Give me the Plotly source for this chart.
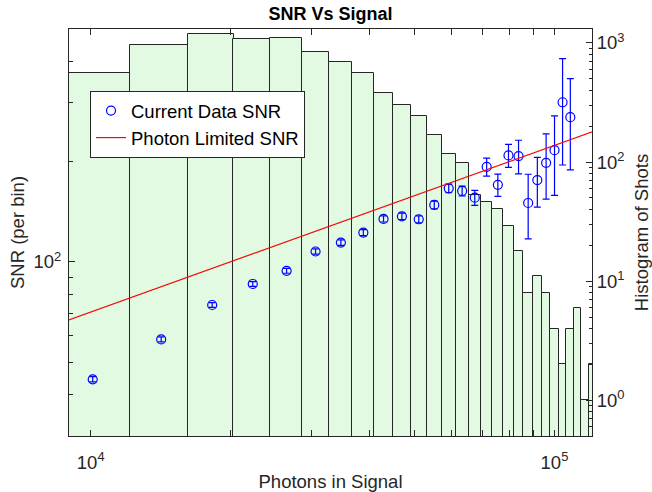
import math
import plotly.graph_objects as go

# ---------------- data ----------------
# bin centres of the photon histogram (photons in signal)
bin_centers = [10100, 14190, 18280, 22360, 26450, 30540, 34630, 38720, 42800,
               46890, 50980, 55070, 59160, 63240, 67330, 71420, 75510, 79600,
               83680, 87770, 91860, 95950, 100040, 104120, 108210, 112300,
               116390, 120480]
bin_width = 4087
# histogram of shots per bin
shot_counts = [557, 962, 1199, 1089, 1101, 841, 689, 564, 381, 304, 244, 168,
               116, 98, 53, 46, 40, 29, 18, 8, 11, 8, 4, 2, 4, 6, 1, 2]

# measured SNR per bin (first 25 bins) and its error
snr_signal = bin_centers[:25]
snr_values = [44.4, 58.5, 74.2, 85.8, 94.0, 107.4, 114.2, 122.4, 134.5, 137.0,
              134.2, 148.2, 166.2, 163.2, 155.8, 192.9, 170.3, 208.7, 207.7,
              150.2, 176.0, 198.3, 216.4, 301.3, 271.8]
snr_errors = [0.8, 1.0, 1.2, 1.4, 1.6, 1.9, 2.2, 2.5, 2.8, 3.0, 3.2, 4.0, 5.0,
              5.5, 8.0, 12.0, 13.0, 16.5, 24.0, 33.0, 30.0, 44.0, 58.0, 106.0,
              83.0]

# photon limited SNR line (end points)
photon_signal = [8900, 121000]
photon_snr = [66.7, 246.0]

x_tick_vals = [1e4, 1e5]
x_tick_text = ["10<sup>4</sup>", "10<sup>5</sup>"]
snr_tick_vals = [100]
snr_tick_text = ["10<sup>2</sup>"]
hist_tick_vals = [1, 10, 100, 1000]
hist_tick_text = ["10<sup>0</sup>", "10<sup>1</sup>", "10<sup>2</sup>", "10<sup>3</sup>"]

# ---------------- style ----------------
FONT = "Liberation Sans, Arial, Helvetica, sans-serif"
AX = "rgb(38,38,38)"
FS = 18.5

x_minor = [m * 1e4 for m in range(2, 10)]
snr_minor = [40, 50, 60, 70, 80, 90, 200, 300, 400]
hist_minor = [0.6, 0.7, 0.8, 0.9] + [m * 10 ** d for d in range(0, 3) for m in range(2, 10)]

fig = go.Figure()

fig.add_trace(go.Bar(
    x=bin_centers, y=shot_counts, width=[bin_width] * len(bin_centers),
    marker=dict(color="rgb(225,250,225)", line=dict(color=AX, width=1)),
    yaxis="y", xaxis="x", showlegend=False, hoverinfo="x+y",
))

fig.add_trace(go.Scatter(
    x=snr_signal, y=snr_values, mode="markers", name="Current Data SNR",
    marker=dict(symbol="circle-open", size=9, color="rgb(0,0,255)",
                line=dict(width=1.2, color="rgb(0,0,255)")),
    error_y=dict(type="data", array=snr_errors, visible=True,
                 color="rgb(0,0,255)", thickness=1.2, width=3.5),
    yaxis="y2", xaxis="x",
))

fig.add_trace(go.Scatter(
    x=photon_signal, y=photon_snr, mode="lines", name="Photon Limited SNR",
    line=dict(color="rgb(240,10,10)", width=1.2),
    yaxis="y2", xaxis="x",
))

fig.update_layout(
    width=652, height=492,
    margin=dict(l=69, r=60, t=29, b=56, autoexpand=False),
    paper_bgcolor="white", plot_bgcolor="white",
    font=dict(family=FONT, size=FS, color=AX),
    title=dict(text="<b>SNR Vs Signal</b>", x=(69 + 592) / 2 / 652, xanchor="center",
               y=1 - 13.5 / 492, yanchor="middle",
               font=dict(family=FONT, size=18, color="black")),
    bargap=0,
    showlegend=True,
    legend=dict(x=(90 - 69) / 523, y=(436 - 91) / 407, xanchor="left", yanchor="top",
                bgcolor="white", bordercolor=AX, borderwidth=1,
                font=dict(family=FONT, size=FS, color="black"),
                tracegroupgap=0),
    xaxis=dict(
        type="log", range=[3.9532, 5.0810], automargin=False,
        title=dict(text="Photons in Signal", standoff=16,
                   font=dict(family=FONT, size=FS, color=AX)),
        tickmode="array", tickvals=x_tick_vals, ticktext=x_tick_text,
        ticks="inside", ticklen=6, tickwidth=1, tickcolor=AX,
        ticklabelstandoff=10,
        minor=dict(tickmode="array", tickvals=x_minor, ticks="inside",
                   ticklen=3.5, tickwidth=1, tickcolor=AX),
        showline=True, linecolor=AX, linewidth=1, mirror="allticks",
        showgrid=False, zeroline=False, anchor="y",
    ),
    yaxis=dict(
        type="log", range=[-0.300, 3.117], side="right", automargin=False,
        title=dict(text="Histogram of Shots",
                   font=dict(family=FONT, size=FS, color=AX)),
        tickmode="array", tickvals=hist_tick_vals, ticktext=hist_tick_text,
        ticks="inside", ticklen=6, tickwidth=1, tickcolor=AX,
        minor=dict(tickmode="array", tickvals=hist_minor, ticks="inside",
                   ticklen=3.5, tickwidth=1, tickcolor=AX),
        showline=True, linecolor=AX, linewidth=1,
        showgrid=False, zeroline=False, anchor="x",
    ),
    yaxis2=dict(
        type="log", range=[math.log10(30), math.log10(500)], side="left",
        overlaying="y", anchor="x", automargin=False,
        title=dict(text="SNR (per bin)", standoff=4,
                   font=dict(family=FONT, size=FS, color=AX)),
        tickmode="array", tickvals=snr_tick_vals, ticktext=snr_tick_text,
        ticks="inside", ticklen=6, tickwidth=1, tickcolor=AX,
        ticklabelstandoff=3,
        minor=dict(tickmode="array", tickvals=snr_minor, ticks="inside",
                   ticklen=3.5, tickwidth=1, tickcolor=AX),
        showline=True, linecolor=AX, linewidth=1,
        showgrid=False, zeroline=False,
    ),
)

fig.write_html("out.html")
